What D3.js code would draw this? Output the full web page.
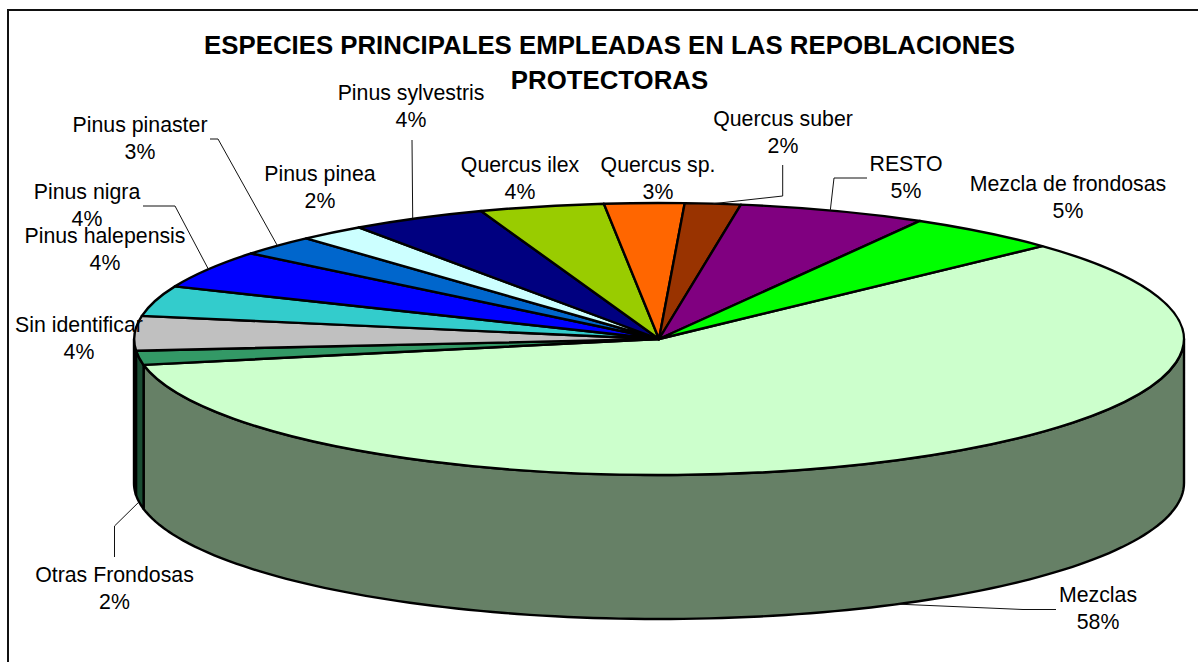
<!DOCTYPE html>
<html><head><meta charset="utf-8">
<script src="https://cdn.jsdelivr.net/npm/d3@7/dist/d3.min.js"></script>
<style>html,body{margin:0;padding:0;background:#fff}svg{display:block}
text{font-family:"Liberation Sans",Arial,sans-serif;fill:#000}</style>
</head><body><svg id="c" width="1198" height="662"></svg>
<script>
const titleLines = ["ESPECIES PRINCIPALES EMPLEADAS EN LAS REPOBLACIONES", "PROTECTORAS"];
const categories = ["Mezclas","Otras Frondosas","Sin identificar","Pinus halepensis","Pinus nigra","Pinus pinaster","Pinus pinea","Pinus sylvestris","Quercus ilex","Quercus sp.","Quercus suber","RESTO","Mezcla de frondosas"];
const sliceValues = [58.9,1.67,4.1,3.6,4.5,2.44,2.03,4.2,3.83,2.44,1.72,5.78,4.75];
const percentLabels = ["58%","2%","4%","4%","4%","3%","2%","4%","4%","3%","2%","5%","5%"];
const colors = ["#CCFFCC","#339966","#C0C0C0","#33CCCC","#0000FF","#0066CC","#CCFFFF","#000080","#99CC00","#FF6600","#993300","#800080","#00FF00"];

// layout (separate from the data)
const W=1198,H=662, cx=659, cy=339, rx=525, ry=136, depth=144;
const startDeg=46.9;
const labelPos = [[1098,595],[114.5,575],[79,325],[105,236],[87,192],[140,125],[320,174],[411,93],[520,165],[658,165],[783,119],[906,164],[1068,184]];
const leaders = {0:[[1023,609.5],[1056,609.5]],1:[[114.5,526],[114.5,557]],4:[[175,206],[143,206]],5:[[218,139],[210,139]],7:[[412,140]],10:[[782.7,196],[782.7,165]],11:[[834,178],[867,178]]};
const leaderNudge = {7:-5,11:-3};

const svg=d3.select("#c");
const line=d3.line();
svg.append("path").attr("d",line([[8,670],[8,10],[1200,10]])).attr("fill","none").attr("stroke","#111").attr("stroke-width",2);

const pie=d3.pie().sort(null).startAngle(startDeg*Math.PI/180).endAngle((startDeg+360)*Math.PI/180);
const arcs=pie(sliceValues);
const px=a=>cx+rx*Math.sin(a), py=a=>cy-ry*Math.cos(a);
const half=c=>{const r=d3.rgb(c);return d3.rgb(r.r*.5,r.g*.5,r.b*.5).formatHex()};

// side walls: only the part of the rim facing the viewer
const g=svg.append("g");
arcs.forEach((d,i)=>{
  const a0=Math.max(d.startAngle,Math.PI/2), a1=Math.min(d.endAngle,Math.PI*1.5);
  if(a1<=a0) return;
  const steps=d3.range(0,121).map(k=>a0+(a1-a0)*k/120);
  const top=steps.map(a=>[px(a),py(a)]), bot=steps.slice().reverse().map(a=>[px(a),py(a)+depth]);
  g.append("path").attr("d",line(top.concat(bot))+"Z").attr("fill",half(colors[i])).attr("stroke","#000").attr("stroke-width",2.4).attr("stroke-linejoin","round");
});
// top faces
const topArc=d3.arc().innerRadius(0).outerRadius(1);
const tg=svg.append("g").attr("transform",`translate(${cx},${cy}) scale(${rx},${ry})`);
tg.selectAll("path").data(arcs).join("path").attr("d",topArc)
  .attr("fill",(d,i)=>colors[i]).attr("stroke","#000").attr("stroke-width",2.4)
  .attr("stroke-linejoin","round").attr("vector-effect","non-scaling-stroke");

// leader lines from each slice's rim midpoint
Object.keys(leaders).forEach(k=>{
  const d=arcs[+k], m=(d.startAngle+d.endAngle)/2;
  const facing=Math.cos(m)<0;
  const p0=[px(m)+(leaderNudge[k]||0),py(m)+(facing?depth:0)];
  svg.append("path").attr("d",line([p0,...leaders[k]])).attr("fill","none").attr("stroke","#111").attr("stroke-width",1);
});

// title
svg.selectAll(".t").data(titleLines).join("text").attr("class","t").attr("x",609.5)
  .attr("y",(d,i)=>54+i*35).attr("text-anchor","middle").attr("font-weight","bold").attr("font-size",25.8).text(d=>d);
// labels
categories.forEach((c,i)=>{
  const [x,y]=labelPos[i];
  svg.append("text").attr("x",x).attr("y",y+7).attr("text-anchor","middle").attr("font-size",21.3).text(c);
  svg.append("text").attr("x",x).attr("y",y+34).attr("text-anchor","middle").attr("font-size",21.3).text(percentLabels[i]);
});
</script></body></html>
